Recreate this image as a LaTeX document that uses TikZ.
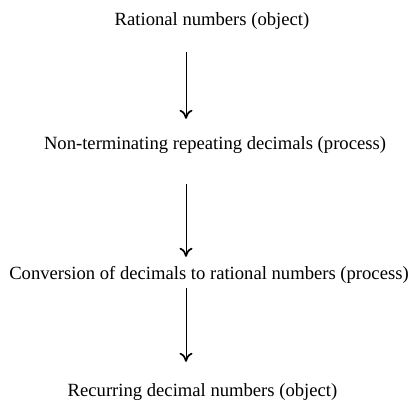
\documentclass[tikz,border=0pt]{standalone}
\usepackage{fontspec}
\setmainfont{Liberation Serif}
\usetikzlibrary{arrows.meta}
\tikzset{
  stage/.style={anchor=base,inner sep=0pt,text height=13bp,text depth=4bp,font=\fontsize{18.7}{22}\selectfont},
  flow/.style={line width=1bp,-{Computer Modern Rightarrow[length=9bp,width=13bp,line width=1.7bp]}}
}
\begin{document}
\begin{tikzpicture}[x=1bp,y=-1bp]
\useasboundingbox (0,0) rectangle (414,402);
\coordinate (ax) at (186,0);
\node[stage] (r1) at (212,25.5) {Rational numbers (object)};
\node[stage] (r2) at (215,149.5) {Non-terminating repeating decimals (process)};
\node[stage] (r3) at (209,279) {Conversion of decimals to rational numbers (process)};
\node[stage] (r4) at (202.5,396) {Recurring decimal numbers (object)};
\draw[flow,shorten <=22.5bp,shorten >=17.5bp] (r1.south -| ax) -- (r2.north -| ax);
\draw[flow,shorten <=30.5bp,shorten >=9bp] (r2.south -| ax) -- (r3.north -| ax);
\draw[flow,shorten <=5bp,shorten >=21bp] (r3.south -| ax) -- (r4.north -| ax);
\end{tikzpicture}
\end{document}
